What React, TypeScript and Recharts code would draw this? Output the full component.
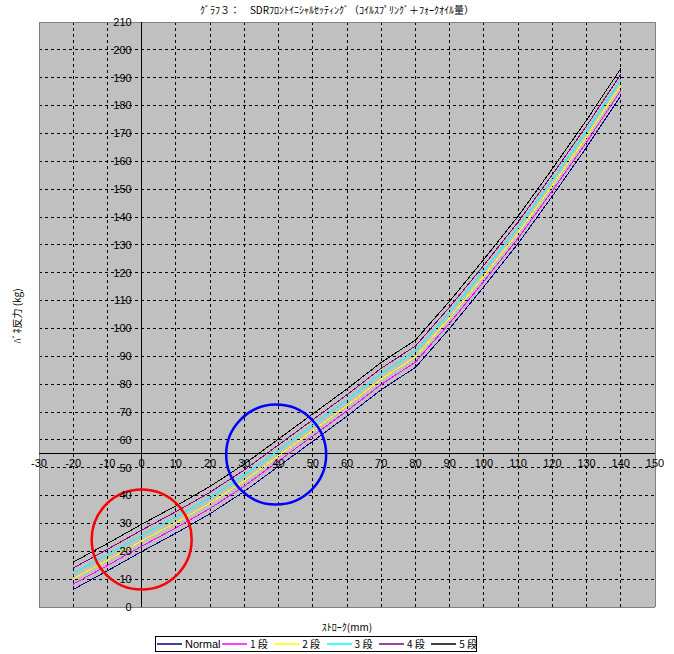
import React from "react";
import {
  CartesianGrid,
  Line,
  LineChart,
  ReferenceDot,
  ReferenceLine,
  XAxis,
  YAxis,
} from "recharts";

// stroke (mm) and spring reaction force (kg)
const strokeMm = [-20, -10, 0, 10, 20, 30, 40, 50, 60, 70, 80, 90, 100, 110, 120, 130, 140];
const normal = [6.3, 13.0, 19.9, 26.5, 33.5, 41.5, 50.5, 59.5, 68.5, 78.0, 86.0, 100.0, 115.0, 130.5, 147.5, 165.0, 183.5];
const dan1 = [8.2, 14.9, 21.8, 28.4, 35.4, 43.4, 52.4, 61.4, 70.4, 79.9, 87.9, 101.9, 116.9, 132.4, 149.4, 166.9, 185.4];
const dan2 = [10.1, 16.8, 23.7, 30.3, 37.3, 45.3, 54.3, 63.3, 72.3, 81.8, 89.8, 103.8, 118.8, 134.3, 151.3, 168.8, 187.3];
const dan3 = [12.1, 18.8, 25.7, 32.3, 39.3, 47.3, 56.3, 65.3, 74.3, 83.8, 91.8, 105.8, 120.8, 136.3, 153.3, 170.8, 189.3];
const dan4 = [14.0, 20.7, 27.6, 34.2, 41.2, 49.2, 58.2, 67.2, 76.2, 85.7, 93.7, 107.7, 122.7, 138.2, 155.2, 172.7, 191.2];
const dan5 = [16.1, 22.8, 29.7, 36.3, 43.3, 51.3, 60.3, 69.3, 78.3, 87.8, 95.8, 109.8, 124.8, 140.3, 157.3, 174.8, 193.3];

const seriesKeys = ["normal", "dan1", "dan2", "dan3", "dan4", "dan5"];
const seriesNames = ["Normal", "1 段", "2 段", "3 段", "4 段", "5 段"];

const xTicks = [-30, -20, -10, 0, 10, 20, 30, 40, 50, 60, 70, 80, 90, 100, 110, 120, 130, 140, 150];
const yTicks = [0, 10, 20, 30, 40, 50, 60, 70, 80, 90, 100, 110, 120, 130, 140, 150, 160, 170, 180, 190, 200, 210];
const xGrid = [-20, -10, 10, 20, 30, 40, 50, 60, 70, 80, 90, 100, 110, 120, 130, 140];
const yGrid = [10, 20, 30, 40, 50, 60, 70, 80, 90, 100, 110, 120, 130, 140, 150, 160, 170, 180, 190, 200];

// x axis crosses at this force value
const xAxisCross = 55;

// circled regions on the original sheet
const redMark = { x: 0, y: 24.2 };
const blueMark = { x: 39.3, y: 54.7 };

const data = strokeMm.map((x, i) => ({
  x,
  normal: normal[i],
  dan1: dan1[i],
  dan2: dan2[i],
  dan3: dan3[i],
  dan4: dan4[i],
  dan5: dan5[i],
}));

const colors: Record<string, string> = {
  normal: "#000080",
  dan1: "#FF00FF",
  dan2: "#FFFF00",
  dan3: "#00FFFF",
  dan4: "#800080",
  dan5: "#000000",
};

const numFont = "'Liberation Sans', Arial, sans-serif";
const jpFont = "'Noto Sans CJK JP', sans-serif";

export default function App() {
  return (
    <div
      style={{
        position: "absolute",
        left: 0,
        top: 0,
        width: 674,
        height: 654,
        background: "#fff",
        fontFamily: jpFont,
      }}
    >
      <div
        style={{
          position: "absolute",
          top: 3,
          left: 0,
          width: 674,
          textAlign: "center",
          fontSize: 10,
          lineHeight: "14px",
        }}
      >
        ｸﾞﾗﾌ３：　SDRﾌﾛﾝﾄｲﾆｼｬﾙｾｯﾃｨﾝｸﾞ（ｺｲﾙｽﾌﾟﾘﾝｸﾞ＋ﾌｫｰｸｵｲﾙ量）
      </div>

      <LineChart
        width={674}
        height={654}
        data={data}
        margin={{ top: 22, right: 19, bottom: 47, left: 39 }}
        style={{ fontFamily: numFont, shapeRendering: "crispEdges" }}
      >
        <CartesianGrid fill="#C0C0C0" horizontal={false} vertical={false} />
        <XAxis type="number" dataKey="x" domain={[-30, 150]} hide />
        <YAxis type="number" domain={[0, 210]} hide />

        {xGrid.map((v) => (
          <ReferenceLine key={`gx${v}`} x={v} stroke="#000" strokeDasharray="3 3" />
        ))}
        {yGrid.map((v) => (
          <ReferenceLine key={`gy${v}`} y={v} stroke="#000" strokeDasharray="3 3" />
        ))}
        <ReferenceLine x={-30} stroke="#808080" />
        <ReferenceLine x={150} stroke="#808080" />
        <ReferenceLine y={0} stroke="#808080" />
        <ReferenceLine y={210} stroke="#808080" />
        <ReferenceLine x={0} stroke="#000" />
        <ReferenceLine y={xAxisCross} stroke="#000" />

        {seriesKeys.map((k) => (
          <Line
            key={k}
            type="linear"
            dataKey={k}
            stroke={colors[k]}
            strokeWidth={1}
            dot={false}
            isAnimationActive={false}
          />
        ))}

        <ReferenceDot
          x={redMark.x}
          y={redMark.y}
          r={50}
          fill="none"
          stroke="#FF0000"
          strokeWidth={2.5}
          shapeRendering="auto"
        />
        <ReferenceDot
          x={blueMark.x}
          y={blueMark.y}
          r={50}
          fill="none"
          stroke="#0000FF"
          strokeWidth={2.5}
          shapeRendering="auto"
        />

        {xTicks.map((v) => (
          <ReferenceDot
            key={`tx${v}`}
            x={v}
            y={xAxisCross}
            r={0}
            fill="none"
            stroke="none"
            label={{
              value: String(v),
              position: "bottom",
              offset: 5,
              fontSize: 11,
              fill: "#000",
            }}
          />
        ))}
        {yTicks.map((v) => (
          <ReferenceDot
            key={`ty${v}`}
            x={0}
            y={v}
            r={0}
            fill="none"
            stroke="none"
            label={{
              value: String(v),
              position: "left",
              offset: 10,
              fontSize: 11,
              fill: "#000",
            }}
          />
        ))}
      </LineChart>

      <div
        style={{
          position: "absolute",
          left: 16,
          top: 316,
          transform: "translate(-50%, -50%) rotate(-90deg)",
          fontSize: 10,
          whiteSpace: "nowrap",
        }}
      >
        ﾊﾞﾈ反力 (kg)
      </div>

      <div
        style={{
          position: "absolute",
          left: 347,
          top: 626,
          transform: "translate(-50%, -50%)",
          fontSize: 10,
          whiteSpace: "nowrap",
        }}
      >
        ｽﾄﾛｰｸ(mm)
      </div>

      <div
        style={{
          position: "absolute",
          left: 155,
          top: 636,
          width: 322,
          height: 16,
          border: "1px solid #000",
          display: "flex",
          alignItems: "center",
          fontSize: 10,
          boxSizing: "border-box",
          background: "#fff",
          paddingLeft: 1,
        }}
      >
        {seriesKeys.map((k, i) => (
          <div
            key={k}
            style={{
              display: "flex",
              alignItems: "center",
              flex: "0 0 auto",
              width: i === 0 ? 65 : 52.3,
              whiteSpace: "nowrap",
            }}
          >
            <svg width={25} height={4} style={{ display: "block", marginRight: 3, flex: "0 0 auto" }}>
              <line x1={0} y1={2} x2={25} y2={2} stroke={colors[k]} strokeWidth={1.5} />
            </svg>
            <span
              style={{
                fontFamily: i === 0 ? numFont : jpFont,
                fontSize: i === 0 ? 11 : 10,
                lineHeight: "12px",
                whiteSpace: "nowrap",
              }}
            >
              {seriesNames[i]}
            </span>
          </div>
        ))}
      </div>
    </div>
  );
}
